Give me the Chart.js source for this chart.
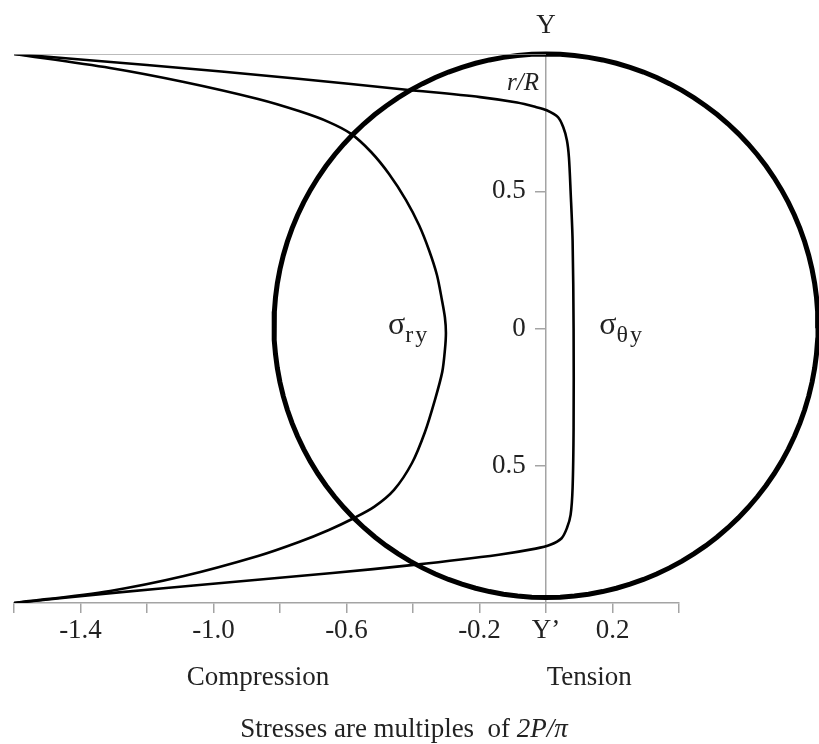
<!DOCTYPE html>
<html>
<head>
<meta charset="utf-8">
<script src="https://cdn.jsdelivr.net/npm/chart.js@4.4.1/dist/chart.umd.min.js"></script>
<style>
  html, body { margin: 0; padding: 0; background: #fff; }
  #wrap { position: relative; width: 819px; height: 744px; }
</style>
</head>
<body>
<div id="wrap"><canvas id="chart"></canvas></div>
<script>
// sigma_theta_y along the vertical diameter, top (r/R = 1) to bottom (r/R = -1)
const thetaR = [1.0, 0.96, 0.911, 0.87, 0.843, 0.823, 0.807, 0.795, 0.77, 0.733, 0.685, 0.623, 0.5, 0.32, 0,
  -0.36, -0.58, -0.679, -0.727, -0.764, -0.788, -0.802, -0.824, -0.861, -0.891, -0.927, -0.964, -1.0];
const thetaStress = [-1.6, -1.2, -0.753, -0.42, -0.198, -0.087, -0.031, 0.002, 0.036, 0.052, 0.063, 0.069, 0.074, 0.08, 0.083,
  0.083, 0.08, 0.074, 0.063, 0.047, 0.013, -0.031, -0.142, -0.398, -0.642, -0.976, -1.309, -1.6];

// sigma_r_y along the same diameter
const radialR = [1.0, 0.949, 0.898, 0.836, 0.792, 0.752, 0.709, 0.643, 0.563, 0.468, 0.377, 0.286, 0.195, 0.104, 0.04,
  -0.016, -0.078, -0.158, -0.26, -0.377, -0.49, -0.588, -0.65, -0.694, -0.734, -0.778, -0.829, -0.902, -0.956, -1.0];
const radialStress = [-1.6, -1.311, -1.089, -0.866, -0.743, -0.653, -0.586, -0.526, -0.472, -0.421, -0.382, -0.352, -0.328, -0.313, -0.304,
  -0.301, -0.304, -0.312, -0.334, -0.364, -0.403, -0.457, -0.517, -0.583, -0.653, -0.743, -0.866, -1.089, -1.311, -1.6];

// top guide line at r/R = 1
const guideX = [-1.6, 0];
const guideY = [1, 1];

// ticks
const xTicks = [-1.6, -1.4, -1.2, -1.0, -0.8, -0.6, -0.4, -0.2, 0, 0.2, 0.4];
const xTickLabels = ['', '-1.4', '', '-1.0', '', '-0.6', '', '-0.2', 'Y\u2019', '0.2', ''];
const yTicks = [-0.5, 0, 0.5];
const yTickLabels = ['0.5', '0', '0.5'];

// disk outline, semi-axes as they come out in stress / r/R units
const diskRx = 0.818;
const diskRy = 0.99;
const diskCy = 0.01;

const toPoints = (xs, ys) => xs.map((v, i) => ({ x: v, y: ys[i] }));

const diskPoints = [];
for (let a = 0; a <= 360; a += 3) {
  const t = a * Math.PI / 180;
  diskPoints.push({ x: diskRx * Math.cos(t), y: diskCy + diskRy * Math.sin(t) });
}

const SERIF = "'Liberation Serif', 'Times New Roman', serif";
const AXIS_GRAY = '#a4a4a4';
const TEXT = '#222';

function drawSigma(ctx, sub, left, baseY) {
  ctx.textAlign = 'left';
  ctx.textBaseline = 'alphabetic';
  ctx.font = '32px ' + SERIF;
  ctx.fillText('\u03C3', left, baseY);
  const w = ctx.measureText('\u03C3').width;
  ctx.font = '24px ' + SERIF;
  ctx.letterSpacing = '2px';
  ctx.fillText(sub, left + w, baseY + 8);
  ctx.letterSpacing = '0px';
}

const annotate = {
  id: 'annotate',
  afterDraw(chart) {
    const { ctx, chartArea, scales: { x, y } } = chart;
    const x0 = x.getPixelForValue(0);
    ctx.save();
    ctx.fillStyle = TEXT;
    ctx.textBaseline = 'alphabetic';

    ctx.textAlign = 'center';
    ctx.font = '27px ' + SERIF;
    ctx.fillText('Y', x0, chartArea.top - 21);

    ctx.textAlign = 'right';
    ctx.font = 'italic 25px ' + SERIF;
    ctx.fillText('r/R', x0 - 7, chartArea.top + 36);

    drawSigma(ctx, 'ry', x.getPixelForValue(-0.475), y.getPixelForValue(0) + 5);
    drawSigma(ctx, '\u03B8y', x.getPixelForValue(0.16), y.getPixelForValue(0) + 5);

    ctx.textAlign = 'center';
    ctx.font = '27px ' + SERIF;
    ctx.fillText('Compression', x.getPixelForValue(-0.866), chartArea.bottom + 82);
    ctx.fillText('Tension', x.getPixelForValue(0.13), chartArea.bottom + 82);

    // caption, with the unit in italics
    const plain = 'Stresses are multiples  of ';
    const ital = '2P/\u03C0';
    ctx.font = '27px ' + SERIF;
    const w1 = ctx.measureText(plain).width;
    ctx.font = 'italic 27px ' + SERIF;
    const w2 = ctx.measureText(ital).width;
    const start = x.getPixelForValue(-0.427) - (w1 + w2) / 2;
    ctx.textAlign = 'left';
    ctx.font = '27px ' + SERIF;
    ctx.fillText(plain, start, chartArea.bottom + 134);
    ctx.font = 'italic 27px ' + SERIF;
    ctx.fillText(ital, start + w1, chartArea.bottom + 134);
    ctx.restore();
  }
};

const line = (data, width, color, extra) => Object.assign({
  data, showLine: true, borderColor: color, borderWidth: width,
  pointRadius: 0, pointHoverRadius: 0, fill: false
}, extra || {});

new Chart(document.getElementById('chart'), {
  type: 'scatter',
  data: {
    datasets: [
      line(toPoints(guideX, guideY), 1.5, AXIS_GRAY, { tension: 0 }),
      line(toPoints(thetaStress, thetaR), 2.6, '#000', { tension: 0.3 }),
      line(toPoints(radialStress, radialR), 2.6, '#000', { tension: 0.3 }),
      line(diskPoints, 5, '#000', { tension: 0, clip: false })
    ]
  },
  options: {
    responsive: true,
    maintainAspectRatio: false,
    animation: false,
    layout: { padding: { left: 14, right: 140, top: 54, bottom: 101 } },
    plugins: { legend: { display: false }, tooltip: { enabled: false } },
    scales: {
      x: {
        type: 'linear',
        position: 'bottom',
        min: -1.6,
        max: 0.4,
        afterBuildTicks: s => { s.ticks = xTicks.map(v => ({ value: v })); },
        afterFit: s => { s.height = 40; },
        ticks: {
          autoSkip: false,
          maxRotation: 0,
          padding: 2,
          color: TEXT,
          font: { family: SERIF, size: 27 },
          callback: (v, i) => xTickLabels[i]
        },
        grid: { drawOnChartArea: false, drawTicks: true, tickLength: 10, color: AXIS_GRAY, lineWidth: 1.5 },
        border: { color: AXIS_GRAY, width: 1.5 }
      },
      y: {
        type: 'linear',
        position: { x: 0 },
        min: -1,
        max: 1,
        afterBuildTicks: s => { s.ticks = yTicks.map(v => ({ value: v })); },
        ticks: {
          color: TEXT,
          font: { family: SERIF, size: 27 },
          // axis sits inside the plot, so the label gap is made with trailing spaces
          callback: (v, i) => yTickLabels[i] + '   '
        },
        grid: { drawOnChartArea: false, drawTicks: true, tickLength: 10, color: AXIS_GRAY, lineWidth: 1.5 },
        border: { color: AXIS_GRAY, width: 1.5 }
      }
    }
  },
  plugins: [annotate]
});
</script>
</body>
</html>
